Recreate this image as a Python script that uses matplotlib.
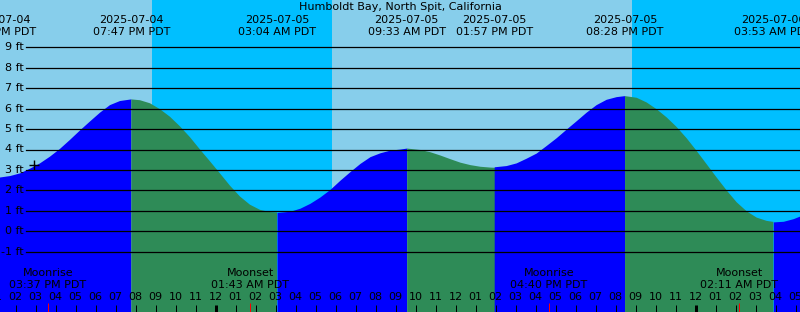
import numpy as np
import matplotlib
matplotlib.use('Agg')
import matplotlib.pyplot as plt

# hours are counted from midnight 2025-07-05 (PDT)
TITLE = 'Humboldt Bay, North Spit, California'

tide_hours = [-10.9, -10.785, -10.285, -9.785, -9.285, -8.785, -8.285, -7.785, -7.285,
              -6.785, -6.285, -5.785, -5.285, -4.785, -4.217,
              -3.785, -3.285, -2.785, -2.285, -1.785, -1.285, -0.785, -0.285,
              0.215, 0.715, 1.215, 1.715, 2.215, 2.715, 3.067,
              3.715, 4.215, 4.715, 5.215, 5.715, 6.215, 6.715, 7.215, 7.715,
              8.215, 8.715, 9.215, 9.55,
              10.215, 10.715, 11.215, 11.715, 12.215, 12.715, 13.215, 13.715, 13.95,
              14.548, 15.048, 15.548, 16.048, 16.548, 17.048, 17.548, 18.048,
              18.548, 19.048, 19.548, 20.048, 20.467,
              21.048, 21.548, 22.048, 22.548, 23.048, 23.548, 24.048, 24.548,
              25.048, 25.548, 26.048, 26.548, 27.048, 27.548, 27.883,
              28.382, 28.882, 29.215, 29.4]
tide_feet = [2.62, 2.63, 2.70, 2.83, 3.06, 3.32, 3.65, 4.03, 4.47,
             4.93, 5.37, 5.80, 6.17, 6.37, 6.45,
             6.41, 6.26, 5.97, 5.60, 5.13, 4.60, 4.00, 3.42,
             2.83, 2.23, 1.70, 1.30, 1.05, 0.94, 0.92,
             0.98, 1.13, 1.37, 1.68, 2.05, 2.50, 2.92, 3.32, 3.65,
             3.84, 3.97, 4.02, 4.07,
             4.00, 3.89, 3.73, 3.55, 3.38, 3.26, 3.18, 3.14, 3.13,
             3.19, 3.32, 3.55, 3.80, 4.17, 4.55, 4.97, 5.38,
             5.80, 6.17, 6.43, 6.56, 6.61,
             6.53, 6.30, 5.97, 5.57, 5.10, 4.55, 3.93, 3.28,
             2.63, 2.00, 1.42, 0.98, 0.67, 0.51, 0.46,
             0.49, 0.62, 0.75, 0.83]

extreme_hours = [-10.883, -4.217, 3.067, 9.55, 13.95, 20.467, 27.883]
extreme_dates = ['2025-07-04', '2025-07-04', '2025-07-05', '2025-07-05',
                 '2025-07-05', '2025-07-05', '2025-07-06']
extreme_times = ['01:07 PM PDT', '07:47 PM PDT', '03:04 AM PDT', '09:33 AM PDT',
                 '01:57 PM PDT', '08:28 PM PDT', '03:53 AM PDT']
extreme_kind = ['low', 'high', 'low', 'high', 'low', 'high', 'low']

sun_hours = [-3.183, 5.817, 20.817]   # sunset, sunrise, sunset
moon_hours = [-8.383, 1.717, 16.667, 26.183]
moon_names = ['Moonrise', 'Moonset', 'Moonrise', 'Moonset']
moon_times = ['03:37 PM PDT', '01:43 AM PDT', '04:40 PM PDT', '02:11 AM PDT']

level_feet = list(range(-1, 10))

DAY = '#87CEEB'
NIGHT = '#00BFFF'
RISING = '#0000FF'
FALLING = '#2E8B57'

W, H = 800, 312
X0, PX_HOUR = 215.7, 20.0      # pixel of midnight, pixels per hour
Y0, PX_FOOT = 231.3, 20.45     # pixel of 0 ft, pixels per foot
FS = 8


def ypix(p):
    # axes fraction from a pixel row counted from the top
    return 1 - p / H


fig = plt.figure(figsize=(W / 100, H / 100), dpi=100)
ax = fig.add_axes([0, 0, 1, 1])
ax.set_xlim(-X0 / PX_HOUR, (W - X0) / PX_HOUR)
ax.set_ylim((Y0 - H) / PX_FOOT, Y0 / PX_FOOT)
ax.axis('off')
xmin, xmax = ax.get_xlim()

# day / night background
edges = [xmin] + sun_hours + [xmax]
for i in range(len(edges) - 1):
    ax.axvspan(edges[i], edges[i + 1], color=DAY if i % 2 == 0 else NIGHT, lw=0, zorder=0)

# tide fill, coloured by rising / falling
t = np.array(tide_hours)
h = np.array(tide_feet)
bounds = [-np.inf] + extreme_hours[1:] + [np.inf]
for i in range(len(bounds) - 1):
    m = (t >= bounds[i] - 1e-6) & (t <= bounds[i + 1] + 1e-6)
    color = RISING if extreme_kind[i] == 'low' else FALLING
    ax.fill_between(t[m], h[m], -10, color=color, lw=0, zorder=1)

# level lines and labels
for ft in level_feet:
    ax.axhline(ft, xmin=26 / W, xmax=1, color='black', lw=0.9, zorder=3)
    ax.text(24 / W, ft, f'{ft} ft', transform=ax.get_yaxis_transform(),
            ha='right', va='center', fontsize=FS, zorder=4)

# current time marker
ax.plot(-9.085, 3.24, marker='+', color='black', ms=7, mew=1, zorder=4)

tx = ax.get_xaxis_transform()
ax.text(0.5, ypix(7), TITLE, transform=ax.transAxes, ha='center', va='center', fontsize=FS)
for hr, d, tm in zip(extreme_hours, extreme_dates, extreme_times):
    ax.text(hr, ypix(20), d, transform=tx, ha='center', va='center', fontsize=FS)
    ax.text(hr, ypix(32), tm, transform=tx, ha='center', va='center', fontsize=FS)

for hr, name, tm in zip(moon_hours, moon_names, moon_times):
    ax.text(hr, ypix(273.5), name, transform=tx, ha='center', va='center', fontsize=FS, zorder=4)
    ax.text(hr, ypix(285.5), tm, transform=tx, ha='center', va='center', fontsize=FS, zorder=4)

# hour labels and ticks
hours = np.arange(-11, 30)
for hr in hours:
    lab = f'{(hr % 12) or 12:02d}'
    ax.text(hr, ypix(297), lab, transform=tx, ha='center', va='center', fontsize=FS, zorder=4)
    lw = 3 if hr % 24 == 0 else 1
    ax.vlines(hr, 0, 7 / H, transform=tx, color='black', lw=lw * 0.72, zorder=4)
ax.vlines(moon_hours, 0, 9 / H, transform=tx, color='red', lw=0.72, zorder=5)

fig.savefig('out.png', dpi=100)
